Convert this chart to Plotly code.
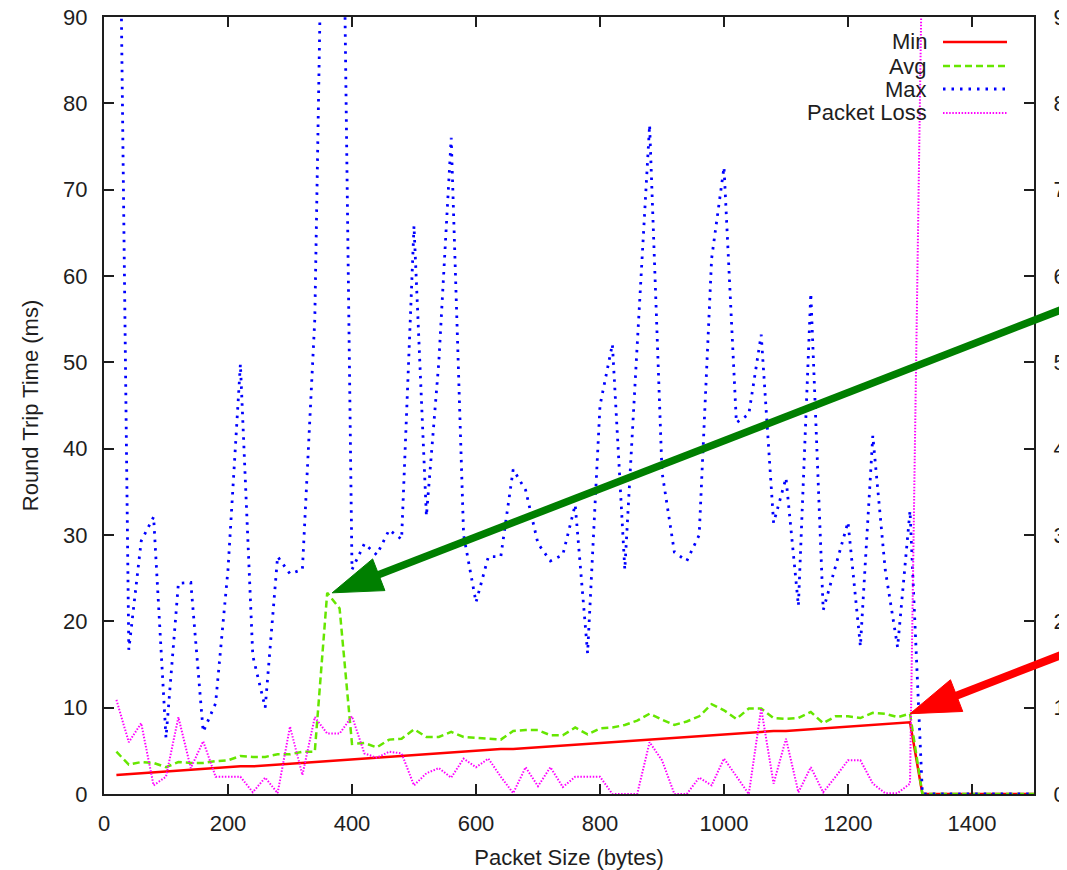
import math
import plotly.graph_objects as go

# ---------------- data ----------------
packet_size = list(range(20, 1501, 20))  # bytes

min_rtt = [
    2.2, 2.3, 2.4, 2.5, 2.6, 2.7, 2.8, 2.9, 3.0, 3.1,
    3.2, 3.2, 3.3, 3.4, 3.5, 3.6, 3.7, 3.8, 3.9, 4.0,
    4.1, 4.2, 4.3, 4.4, 4.5, 4.6, 4.7, 4.8, 4.9, 5.0,
    5.1, 5.2, 5.2, 5.3, 5.4, 5.5, 5.6, 5.7, 5.8, 5.9,
    6.0, 6.1, 6.2, 6.3, 6.4, 6.5, 6.6, 6.7, 6.8, 6.9,
    7.0, 7.1, 7.2, 7.3, 7.3, 7.4, 7.5, 7.6, 7.7, 7.8,
    7.9, 8.0, 8.1, 8.2, 8.3, 0.0, 0.0, 0.0, 0.0, 0.0,
    0.0, 0.0, 0.0, 0.0, 0.0,
]

avg_rtt = [
    4.9, 3.4, 3.7, 3.6, 3.1, 3.7, 3.6, 3.6, 3.8, 3.9,
    4.4, 4.3, 4.3, 4.6, 4.6, 4.9, 4.9, 23.3, 21.5, 5.8,
    5.9, 5.4, 6.3, 6.4, 7.5, 6.6, 6.6, 7.2, 6.6, 6.5,
    6.4, 6.3, 7.3, 7.4, 7.4, 6.8, 6.8, 7.7, 6.9, 7.6,
    7.7, 8.0, 8.5, 9.3, 8.6, 8.0, 8.4, 9.0, 10.4, 9.7,
    8.7, 9.9, 9.9, 8.8, 8.7, 8.8, 9.5, 8.2, 9.0, 9.0,
    8.8, 9.4, 9.3, 8.9, 9.3, 0.0, 0.0, 0.0, 0.0, 0.0,
    0.0, 0.0, 0.0, 0.0, 0.0,
]

max_rtt = [
    140, 16.7, 29.3, 32.1, 6.5, 24.4, 24.5, 7.2, 10.5, 26,
    49.8, 16, 10, 27.5, 25.5, 26, 55, 140, 140, 26,
    29, 27.7, 30.6, 29.5, 65.8, 32.2, 50, 76, 30, 22.2,
    27.5, 27.5, 37.6, 35.2, 29, 27, 27.7, 33.5, 16.3, 45,
    52.1, 26, 52, 77.5, 37.3, 28, 27, 30, 62, 72.6,
    43, 44, 53.2, 31.4, 36.6, 21.8, 58, 21.3, 26.4, 31.5,
    17.1, 41.5, 26, 17, 32.8, 0, 0, 0, 0, 0,
    0, 0, 0, 0, 0,
]

packet_loss = [
    10.9, 6.0, 8.2, 1.0, 2.0, 8.9, 3.0, 6.1, 2.0, 2.0,
    2.0, 0.2, 1.9, 0.1, 7.8, 2.2, 8.9, 7.0, 7.0, 9.0,
    4.7, 4.2, 4.9, 4.7, 1.0, 2.4, 3.0, 1.9, 4.1, 3.1,
    4.1, 2.0, 0.1, 3.1, 0.9, 3.1, 0.8, 2.0, 2.0, 2.0,
    0.0, 0.0, 0.0, 6.0, 3.9, 0.0, 0.0, 1.9, 1.0, 4.1,
    2.0, 0.0, 9.9, 1.2, 6.4, 0.2, 3.1, 0.2, 2.0, 3.9,
    3.9, 1.2, 0.1, 0.1, 1.2, 100, 100, 100, 100, 100,
    100, 100, 100, 100, 100,
]

series_names = ["Min", "Avg", "Max", "Packet Loss"]
x_ticks = [0, 200, 400, 600, 800, 1000, 1200, 1400]
y_ticks = [0, 10, 20, 30, 40, 50, 60, 70, 80, 90]

# arrow tips (data coords) : green -> avg spike, red -> last point before cut-off
arrow_tips = [(368, 23.3), (1300, 9.3)]

# ---------------- styling ----------------
OFF = 8  # page body margin offset
W, H = 1067 - OFF, 870 - OFF
PL, PR, PT, PB = 104 - OFF, 1034 - OFF, 17 - OFF, 794 - OFF  # plot area in fig px
X_RANGE = [0, 1500]
Y_RANGE = [0, 90]
FONT = "Liberation Sans, Arial, Helvetica, sans-serif"
TXT = "#1e1e1e"

styles = {
    "Min": dict(color="#ff0000", width=2.5, dash="solid"),
    "Avg": dict(color="#66e600", width=2.5, dash="7px,4px"),
    "Max": dict(color="#0000ff", width=2.8, dash="2.5px,6px"),
    "Packet Loss": dict(color="#ff00ff", width=2, dash="1.5px,1.6px"),
}

fig = go.Figure()
for name, ys, axis in [("Min", min_rtt, "y"), ("Avg", avg_rtt, "y"),
                       ("Max", max_rtt, "y"), ("Packet Loss", packet_loss, "y2")]:
    fig.add_trace(go.Scatter(x=packet_size, y=ys, mode="lines", name=name,
                             line=styles[name], yaxis=axis, showlegend=False))


def px2x(px):  # screen px -> paper
    return (px - OFF - PL) / (PR - PL)


def px2y(py):
    return (PB - (py - OFF)) / (PB - PT)


shapes = []
annotations = []

# custom legend (text on the left, sample on the right), screen px positions
legend_rows = [42, 66, 89, 113]
for name, ry in zip(series_names, legend_rows):
    annotations.append(dict(xref="paper", yref="paper", x=px2x(929), y=px2y(ry),
                            xanchor="right", yanchor="middle", text=name, showarrow=False,
                            font=dict(family=FONT, size=22, color=TXT)))
    st = styles[name]
    shapes.append(dict(type="line", xref="paper", yref="paper",
                       x0=px2x(943), x1=px2x(1007), y0=px2y(ry), y1=px2y(ry),
                       line=dict(color=st["color"], width=st["width"], dash=st["dash"])))

# arrows drawn as pixel-sized shapes anchored at the tip
theta = math.atan2(285, 734)
ux, uy = math.cos(theta), math.sin(theta)
nx, ny = -uy, ux
head_len, head_half = 50, 17
for (tx, ty), col, lw in zip(arrow_tips, ["#007f00", "#ff0000"], [7.5, 8]):
    xa = (tx - X_RANGE[0]) / (X_RANGE[1] - X_RANGE[0])
    ya = (ty - Y_RANGE[0]) / (Y_RANGE[1] - Y_RANGE[0])
    c1 = (head_len * ux + head_half * nx, head_len * uy + head_half * ny)
    c2 = (head_len * ux - head_half * nx, head_len * uy - head_half * ny)
    s0 = (0.8 * head_len * ux, 0.8 * head_len * uy)
    s1 = (1000 * ux, 1000 * uy)
    common = dict(type="path", xref="paper", yref="paper", xsizemode="pixel",
                  ysizemode="pixel", xanchor=xa, yanchor=ya, layer="above")
    shapes.append(dict(common, path=f"M{s0[0]:.2f},{s0[1]:.2f} L{s1[0]:.2f},{s1[1]:.2f}",
                       line=dict(color=col, width=lw)))
    shapes.append(dict(common, path=f"M0,0 L{c1[0]:.2f},{c1[1]:.2f} L{c2[0]:.2f},{c2[1]:.2f} Z",
                       fillcolor=col, line=dict(color=col, width=1)))

axis_common = dict(showgrid=False, zeroline=False, ticks="inside", ticklen=10,
                   tickwidth=2, tickcolor=TXT, showline=True, linecolor=TXT,
                   linewidth=2, tickfont=dict(family=FONT, size=22, color=TXT),
                   ticklabeloverflow="allow")

fig.update_layout(
    width=W, height=H,
    margin=dict(l=PL, r=W - PR, t=PT, b=H - PB, pad=0, autoexpand=False),
    paper_bgcolor="white", plot_bgcolor="white",
    font=dict(family=FONT, size=22, color=TXT),
    showlegend=False,
    xaxis=dict(axis_common, range=X_RANGE, tickvals=x_ticks, mirror="ticks",
               ticklabelstandoff=9,
               title=dict(text="Packet Size (bytes)", standoff=16,
                          font=dict(family=FONT, size=22, color=TXT))),
    yaxis=dict(axis_common, range=Y_RANGE, tickvals=y_ticks, mirror=True,
               ticklabelstandoff=10,
               title=dict(text="Round Trip Time (ms)", standoff=18,
                          font=dict(family=FONT, size=22, color=TXT))),
    yaxis2=dict(axis_common, range=Y_RANGE, tickvals=y_ticks, overlaying="y",
                side="right", ticklabelstandoff=13),
    shapes=shapes,
    annotations=annotations,
)

fig.write_html("out.html")
